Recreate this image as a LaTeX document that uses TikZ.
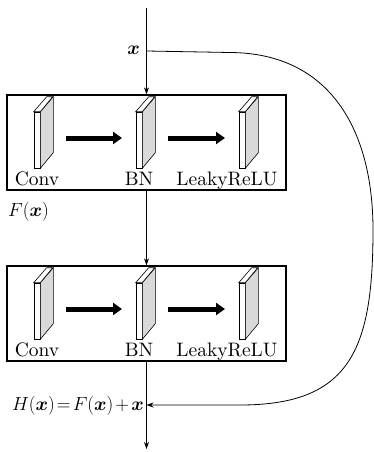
\RequirePackage{fix-cm}
\documentclass[tikz,border=0pt]{standalone}
\usepackage{amsmath,bm}
\usepackage{fontspec}
\setmainfont{lmroman10-regular.otf}
\usetikzlibrary{arrows.meta}
\tikzset{
  every picture/.style={x=1pt,y=-1pt},
  frame/.style={draw,line width=1.3pt,minimum width=279pt,minimum height=95pt,inner sep=0pt},
  slabface/.style={draw,line width=0.6pt,fill=white,minimum width=6pt,minimum height=56pt,inner sep=0pt},
  flow/.style={line width=0.8pt,-{Stealth[length=7pt,width=5pt]}},
  fat/.style={line width=5pt,-{Triangle[length=9pt,width=12pt]},shorten <=29pt,shorten >=17pt},
  lab/.style={anchor=base,inner sep=0pt,font=\fontsize{19.5}{22}\selectfont},
  mathlab/.style={inner sep=0pt,font=\fontsize{19}{22}\selectfont}
}
\newcommand\slabdraw[2]{%
  \node[slabface] (#1) at #2 {};
  \draw[line width=0.6pt,fill=gray!30] (#1.north east) -- ++(13,-15) -- ++(0,56) -- (#1.south east) -- cycle;
  \draw[line width=0.6pt,fill=white] (#1.north west) -- ++(13,-15) -- ++(6,0) -- (#1.north east) -- cycle;
}
\begin{document}
\begin{tikzpicture}
\useasboundingbox (0,0) rectangle (374,452);
% frames
\node[frame] (box1) at (146.5,142.5) {};
\node[frame] (box2) at (146.5,313.5) {};
% slabs
\slabdraw{c1}{(37,140)}
\slabdraw{b1}{(139,140)}
\slabdraw{l1}{(242,140)}
\slabdraw{c2}{(37,311)}
\slabdraw{b2}{(139,311)}
\slabdraw{l2}{(242,311)}
\draw[fat] ([yshift=2pt]c1.center) -- ([yshift=2pt]b1.center);
\draw[fat] ([yshift=2pt]b1.center) -- ([yshift=2pt]l1.center);
\draw[fat] ([yshift=2pt]c2.center) -- ([yshift=2pt]b2.center);
\draw[fat] ([yshift=2pt]b2.center) -- ([yshift=2pt]l2.center);
% labels
\node[lab] (t1) at (37,185) {Conv};
\node[lab] (t2) at (139,185) {BN};
\node[lab] (t3) at (227,185) {LeakyReLU};
\node[lab] (t4) at (37,356) {Conv};
\node[lab] (t5) at (139,356) {BN};
\node[lab] (t6) at (227,356) {LeakyReLU};
% main flow
\coordinate (top) at (146.5,8);
\coordinate (split) at (146.5,51);
\coordinate (join) at (146.5,405);
\coordinate (bot) at (146.5,449);
\draw[flow] (top) -- (box1.north);
\draw[flow] (box1.south) -- (box2.north);
\draw[flow] (box2.south) -- (bot);
% skip connection
\draw[flow] (split) -- (230,52.5) .. controls (330,53) and (373,130) .. (373,230)
  .. controls (373,350) and (350,405) .. (240,405) -- (join);
% math labels
\node[mathlab,anchor=base east] (xin) at (140,55) {$\bm{x}$};
\node[mathlab,anchor=base west] (fx) at (8,216) {$F(\bm{x})$};
\node[mathlab,anchor=base east] (hx) at (144,410) {$H(\bm{x})\mkern-3mu=\mkern-3mu F(\bm{x})\mkern-2mu+\mkern-2mu\bm{x}$};
\end{tikzpicture}
\end{document}
